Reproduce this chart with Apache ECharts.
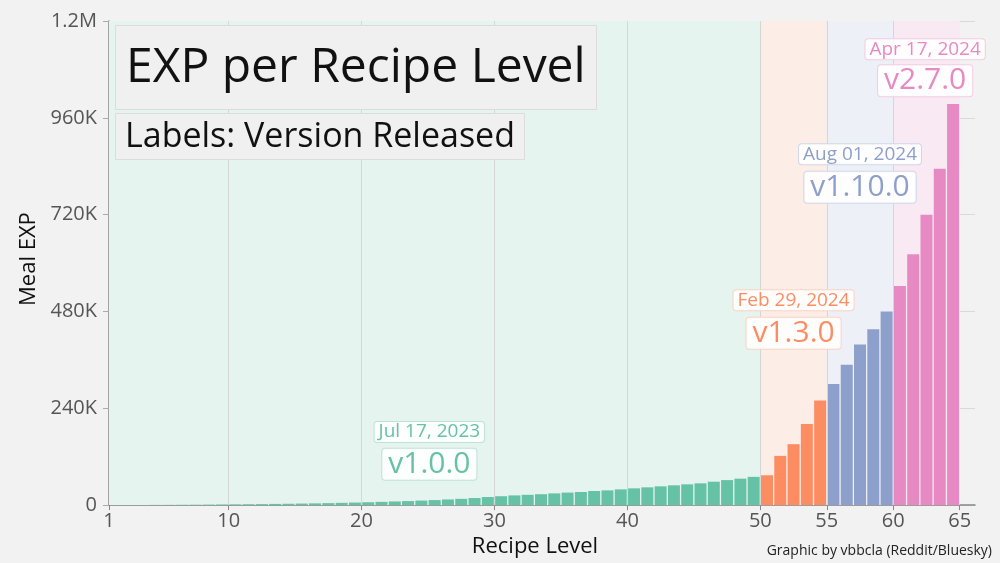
<!DOCTYPE html>
<html><head><meta charset="utf-8">
<script src="https://cdn.jsdelivr.net/npm/echarts@6/dist/echarts.min.js"></script>
<style>html,body{margin:0;padding:0;background:#f2f2f2}#c{width:1000px;height:563px}</style>
</head><body><div id="c"></div>
<script>
// Data
var levels = [];
for (var L = 2; L <= 65; L++) levels.push(L);
var mealExp = [100,200,300,450,600,800,1000,1300,1600,1900,2200,2500,2900,3300,3800,4300,4900,5600,6300,7100,8000,9000,10000,11200,12500,14000,15500,17500,20000,22000,24000,25500,27000,29000,31000,32500,35000,36500,39000,41500,44000,46500,49000,51500,54000,58000,62000,65500,70000,
  74000,122000,151000,201000,259000,
  300000,348000,398000,436000,480000,
  543000,622000,720000,834000,994000];
var versions = ['v1.0.0','v1.3.0','v1.10.0','v2.7.0'];
var releaseDates = ['Jul 17, 2023','Feb 29, 2024','Aug 01, 2024','Apr 17, 2024'];
var rangeStart = [1, 50, 55, 60];
var rangeEnd = [50, 55, 60, 65];
var xTickLabels = [1,10,20,30,40,50,55,60,65];

var colors = ['#66c2a5','#fc8d62','#8da0cb','#e78ac3'];
var bgColors = ['#e5f4ee','#fcede6','#edf0f6','#f9e9f3'];
var labelBorders = ['#bfe3d6','#fcd3c2','#cfd7ea','#f3cde4'];
// annotation anchor positions (data space)
var annX = [25.1, 52.5, 57.5, 62.4];
var annDateY = [181000, 508000, 870000, 1130000];
var annVerY = [101000, 426000, 788000, 1052000];

function groupOf(L){ for (var g=0; g<4; g++){ if (L>rangeStart[g] && L<=rangeEnd[g]) return g; } return 0; }

var barData = levels.map(function(L,i){
  return {value:[L-0.5, mealExp[i]], itemStyle:{color: colors[groupOf(L)]}};
});

var font = 'Open Sans';
var markPts = [];
for (var g=0; g<4; g++){
  markPts.push({coord:[annX[g], annDateY[g]], label:{formatter: releaseDates[g], fontSize:19, color: colors[g],
    backgroundColor:'rgba(255,255,255,0.9)', borderColor: labelBorders[g], borderWidth:1, borderRadius:3, padding:[1,4,0,4]}});
  markPts.push({coord:[annX[g], annVerY[g]], label:{formatter: versions[g], fontSize:30, color: colors[g],
    backgroundColor:'rgba(255,255,255,0.9)', borderColor: labelBorders[g], borderWidth:1, borderRadius:3, padding:[1,6,0,6]}});
}

var chart = echarts.init(document.getElementById('c'), null, {renderer:'canvas'});
chart.setOption({
  backgroundColor:'#f2f2f2',
  textStyle:{fontFamily:font},
  animation:false,
  title:[
    {text:'EXP per Recipe Level', left:115, top:25, padding:[19,11,18,11],
     backgroundColor:'#f0f0f0', borderColor:'#dcdcdc', borderWidth:1,
     textStyle:{fontFamily:font, fontSize:48, fontWeight:'normal', color:'#111'}},
    {text:'Labels: Version Released', left:115, top:113, padding:[7,10,6,10],
     backgroundColor:'#f0f0f0', borderColor:'#dcdcdc', borderWidth:1,
     textStyle:{fontFamily:font, fontSize:34, fontWeight:'normal', color:'#111'}}
  ],
  graphic:[{type:'text', right:8, bottom:5, style:{text:'Graphic by vbbcla (Reddit/Bluesky)', fontFamily:font, fontSize:14, fill:'#222'}}],
  grid:{left:109, right:25, top:21, bottom:57.6, containLabel:false},
  xAxis:{type:'value', min:1, max:66.15,
    name:'Recipe Level', nameLocation:'middle', nameGap:25,
    nameTextStyle:{fontSize:22, color:'#111', fontFamily:font, padding:[0,14,0,0]},
    axisLine:{show:true, lineStyle:{color:'#888', width:1.5}},
    axisTick:{show:true, customValues:xTickLabels, length:5, lineStyle:{color:'#888'}},
    axisLabel:{customValues:xTickLabels, fontSize:20, color:'#555', margin:6, fontFamily:font},
    splitLine:{show:false}},
  yAxis:{type:'value', min:0, max:1200000, interval:240000,
    name:'Meal EXP', nameLocation:'middle', nameGap:63,
    nameTextStyle:{fontSize:22, color:'#111', fontFamily:font, padding:[0,0,0,8]},
    axisLine:{show:true, lineStyle:{color:'#888', width:1.5}},
    axisTick:{show:true, length:6, lineStyle:{color:'#aaa'}},
    axisLabel:{fontSize:20, color:'#555', margin:12, fontFamily:font,
      formatter:function(v){ if (v===0) return '0'; if (v>=1000000) return (v/1000000)+'M'; return (v/1000)+'K'; }},
    splitLine:{show:true, lineStyle:{color:'#d9d9d9', width:1}}},
  series:[
    {type:'line', data:[], z:1, silent:true,
     markArea:{silent:true, data: rangeStart.map(function(s,g){ return [{xAxis:s, itemStyle:{color:bgColors[g]}},{xAxis:rangeEnd[g]}]; })},
     markLine:{silent:true, symbol:'none', label:{show:false}, lineStyle:{color:'#d6d6d6', type:'solid', width:1},
       data:[10,20,30,40,50,55,60].map(function(v){return {xAxis:v};})}},
    {type:'bar', data:barData, barWidth:12, z:3,
     markPoint:{symbol:'rect', symbolSize:[1,1], itemStyle:{color:'transparent'},
       label:{show:true, position:'inside', fontFamily:font}, data:markPts}}
  ]
});
</script></body></html>
